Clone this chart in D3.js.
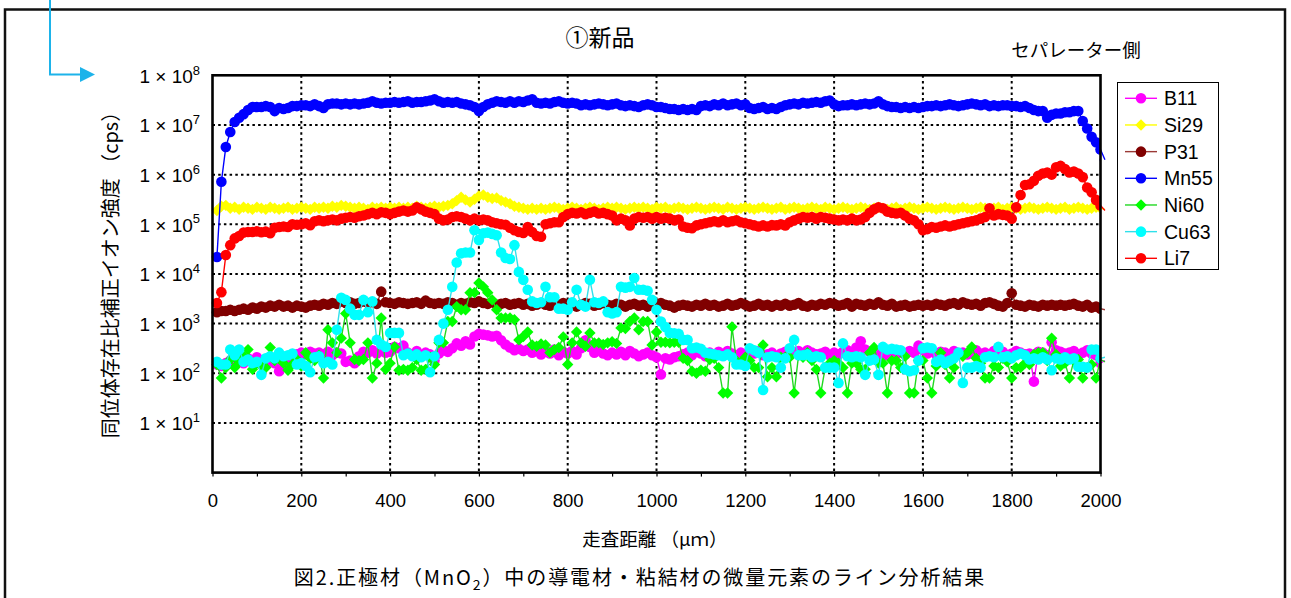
<!DOCTYPE html>
<html><head><meta charset="utf-8">
<script src="https://cdn.jsdelivr.net/npm/d3@7"></script>
<style>body{margin:0;background:#fff}svg{display:block}</style>
</head><body><svg id="c" width="1291" height="598"></svg>
<script>
// ---- data (distance in µm, intensity in cps) ----
const distances = d3.range(10, 2011, 10);
const seriesNames = ["B11","Si29","P31","Mn55","Ni60","Cu63","Li7"];
const xTickValues = [0,200,400,600,800,1000,1200,1400,1600,1800,2000];
const yTickExponents = [1,2,3,4,5,6,7,8];

const B11 = [
1.5e2,1.4e2,1.6e2,1.8e2,1.5e2,1.9e2,1.6e2,2.0e2,1.7e2,2.1e2,
1.8e2,1.5e2,1.9e2,1.6e2,1.1e2,1.5e2,1.8e2,2.1e2,2.4e2,2.6e2,
2.4e2,2.7e2,2.5e2,2.6e2,2.4e2,2.7e2,2.3e2,2.6e2,2.5e2,1.7e2,
1.8e2,1.6e2,2.2e2,2.7e2,2.6e2,2.9e2,2.5e2,2.8e2,2.6e2,2.7e2,
3.4e2,3.2e2,3.6e2,2.6e2,2.3e2,2.8e2,2.2e2,2.6e2,2.4e2,1.8e2,
2.5e2,2.9e2,2.7e2,3.2e2,4.0e2,3.6e2,4.4e2,3.8e2,5.5e2,6.2e2,
6.0e2,5.8e2,5.5e2,5.7e2,4.6e2,3.8e2,3.3e2,2.9e2,3.1e2,2.8e2,
3.0e2,2.6e2,2.9e2,2.4e2,2.8e2,2.5e2,3.0e2,2.3e2,2.7e2,2.5e2,
2.8e2,2.4e2,3.2e2,4.6e2,3.4e2,2.6e2,2.9e2,2.5e2,2.3e2,2.6e2,
2.4e2,2.7e2,2.3e2,2.8e2,2.5e2,2.2e2,2.4e2,2.6e2,2.3e2,2.1e2,
9.5e1,2.0e2,1.9e2,2.1e2,2.2e2,2.4e2,2.6e2,2.3e2,2.8e2,2.5e2,
2.2e2,2.6e2,2.4e2,2.7e2,2.3e2,2.8e2,2.5e2,2.3e2,2.6e2,2.4e2,
2.7e2,2.5e2,2.8e2,2.3e2,2.4e2,2.6e2,2.2e2,2.5e2,2.7e2,2.3e2,
2.6e2,2.8e2,2.5e2,2.9e2,2.6e2,2.4e2,2.5e2,2.7e2,2.3e2,2.6e2,
2.4e2,2.7e2,2.9e2,2.6e2,3.3e2,4.4e2,3.0e2,2.7e2,2.5e2,2.4e2,
2.6e2,2.3e2,2.7e2,2.5e2,2.6e2,2.4e2,2.8e2,2.6e2,3.6e2,2.9e2,
2.5e2,2.8e2,2.4e2,2.7e2,2.6e2,2.3e2,2.8e2,2.5e2,2.6e2,2.4e2,
2.7e2,2.9e2,2.5e2,2.6e2,2.4e2,2.8e2,2.5e2,2.7e2,2.3e2,2.5e2,
2.8e2,2.6e2,2.4e2,2.5e2,6.8e1,2.7e2,2.6e2,2.3e2,4.2e2,2.9e2,
2.7e2,2.5e2,2.6e2,2.8e2,2.4e2,2.6e2,2.9e2,2.5e2,2.3e2,1.6e2,
1.8e2];

const Si29 = [
1.9e5,2.3e5,2.4e5,2.1e5,2.2e5,2.0e5,2.2e5,2.1e5,2.0e5,2.2e5,
2.1e5,2.0e5,2.2e5,2.1e5,2.0e5,2.1e5,2.2e5,2.0e5,2.1e5,2.2e5,
2.1e5,2.0e5,2.2e5,2.1e5,2.2e5,2.1e5,2.3e5,2.2e5,2.4e5,2.3e5,
2.2e5,2.1e5,2.2e5,2.1e5,2.0e5,2.2e5,2.1e5,2.2e5,2.1e5,2.2e5,
2.1e5,2.2e5,2.1e5,2.2e5,2.1e5,2.3e5,2.2e5,2.1e5,2.2e5,2.3e5,
2.2e5,2.3e5,2.4e5,2.6e5,3.0e5,3.5e5,3.1e5,2.8e5,3.2e5,3.7e5,
3.9e5,3.5e5,3.3e5,3.4e5,3.0e5,2.8e5,2.6e5,2.3e5,2.2e5,2.1e5,
2.0e5,2.1e5,2.0e5,2.1e5,2.0e5,2.1e5,2.2e5,2.1e5,2.0e5,2.1e5,
2.2e5,2.1e5,2.0e5,2.1e5,2.2e5,2.1e5,2.0e5,2.1e5,2.2e5,2.1e5,
2.2e5,2.1e5,2.0e5,2.1e5,2.2e5,2.1e5,2.2e5,2.1e5,2.0e5,2.2e5,
2.1e5,2.2e5,2.0e5,2.1e5,2.2e5,2.1e5,2.0e5,2.1e5,2.2e5,2.1e5,
2.0e5,2.1e5,2.2e5,2.1e5,2.0e5,2.2e5,2.1e5,2.0e5,2.1e5,2.2e5,
2.1e5,2.0e5,2.1e5,2.2e5,2.1e5,2.0e5,2.1e5,2.2e5,2.0e5,2.1e5,
2.2e5,2.1e5,2.0e5,2.1e5,2.2e5,2.1e5,2.0e5,2.2e5,2.1e5,2.0e5,
2.1e5,2.2e5,2.1e5,2.0e5,2.1e5,2.2e5,2.1e5,2.0e5,2.1e5,2.2e5,
2.1e5,2.0e5,2.1e5,2.2e5,2.0e5,2.1e5,2.2e5,2.1e5,2.0e5,2.1e5,
2.2e5,2.1e5,2.0e5,2.1e5,2.2e5,2.1e5,2.0e5,2.1e5,2.2e5,2.1e5,
2.0e5,2.1e5,2.2e5,2.1e5,2.0e5,2.1e5,2.2e5,2.0e5,2.1e5,2.2e5,
2.1e5,2.0e5,2.1e5,2.2e5,2.1e5,2.0e5,2.1e5,2.2e5,2.1e5,2.0e5,
2.1e5,2.2e5,2.0e5,2.1e5,2.2e5,2.1e5,2.0e5,2.1e5,2.2e5,2.1e5,
2.0e5];

const P31 = [
1.7e3,1.8e3,1.8e3,1.9e3,1.8e3,1.9e3,2.0e3,1.9e3,2.1e3,2.0e3,
2.2e3,2.1e3,2.3e3,2.2e3,2.4e3,2.2e3,2.3e3,2.1e3,2.3e3,2.2e3,
2.1e3,2.3e3,2.4e3,2.3e3,2.5e3,2.4e3,2.6e3,2.5e3,2.8e3,2.6e3,
2.7e3,2.5e3,2.6e3,2.8e3,2.6e3,2.7e3,2.5e3,4.4e3,2.7e3,2.6e3,
2.5e3,2.7e3,2.6e3,2.5e3,2.6e3,2.7e3,2.5e3,2.9e3,2.6e3,2.5e3,
2.6e3,2.5e3,2.7e3,2.6e3,2.4e3,2.6e3,2.5e3,2.7e3,2.6e3,2.8e3,
2.6e3,2.5e3,2.7e3,2.4e3,2.5e3,2.6e3,2.4e3,2.5e3,2.6e3,2.4e3,
2.5e3,2.3e3,2.4e3,2.6e3,2.4e3,2.3e3,2.5e3,2.4e3,2.6e3,2.5e3,
2.4e3,2.2e3,2.4e3,2.6e3,2.5e3,2.3e3,2.4e3,2.6e3,2.4e3,2.3e3,
2.5e3,2.4e3,2.2e3,2.4e3,2.5e3,2.3e3,2.4e3,2.2e3,2.5e3,2.4e3,
2.6e3,2.4e3,2.3e3,2.1e3,2.3e3,2.4e3,2.3e3,2.2e3,2.4e3,2.3e3,
2.5e3,2.3e3,2.4e3,2.2e3,2.3e3,2.5e3,2.3e3,2.4e3,2.6e3,2.4e3,
2.2e3,2.3e3,2.5e3,2.3e3,2.4e3,2.2e3,2.4e3,2.3e3,2.5e3,2.3e3,
2.4e3,2.6e3,2.3e3,2.2e3,2.4e3,2.3e3,2.5e3,2.4e3,2.6e3,2.5e3,
2.3e3,2.4e3,2.6e3,2.2e3,2.5e3,2.4e3,2.3e3,2.5e3,2.4e3,2.7e3,
2.4e3,2.3e3,2.5e3,2.2e3,2.3e3,2.4e3,2.2e3,2.3e3,2.4e3,2.3e3,
2.4e3,2.3e3,2.5e3,2.4e3,2.3e3,2.5e3,2.6e3,2.4e3,2.7e3,2.5e3,
2.4e3,2.5e3,2.3e3,2.6e3,2.7e3,2.5e3,2.3e3,2.2e3,2.6e3,4.1e3,
2.4e3,2.3e3,2.2e3,2.4e3,2.3e3,2.2e3,2.4e3,2.3e3,2.4e3,2.3e3,
2.4e3,2.3e3,2.4e3,2.5e3,2.3e3,2.2e3,2.4e3,2.1e3,2.2e3,2.0e3,
1.9e3];

const Mn55 = [
2.2e4,7.2e5,3.6e6,7.2e6,1.15e7,1.4e7,1.65e7,2.0e7,2.3e7,2.3e7,
2.3e7,2.4e7,2.3e7,1.9e7,2.2e7,2.1e7,2.2e7,2.4e7,2.4e7,2.5e7,
2.5e7,2.4e7,2.6e7,2.4e7,2.2e7,2.6e7,2.7e7,2.7e7,2.6e7,2.7e7,
2.6e7,2.7e7,2.6e7,2.7e7,2.8e7,3.0e7,2.8e7,2.7e7,2.8e7,2.8e7,
2.9e7,2.8e7,2.9e7,3.0e7,2.8e7,2.9e7,2.9e7,3.0e7,3.1e7,3.3e7,
3.0e7,2.8e7,2.9e7,2.8e7,2.9e7,2.7e7,2.6e7,2.5e7,2.3e7,1.9e7,
2.3e7,2.6e7,2.8e7,3.0e7,2.9e7,2.8e7,3.0e7,2.8e7,3.0e7,2.9e7,
3.1e7,3.3e7,2.8e7,2.7e7,2.8e7,2.7e7,2.9e7,3.0e7,2.8e7,2.7e7,
2.8e7,2.7e7,2.5e7,2.6e7,2.5e7,2.6e7,2.7e7,2.6e7,2.5e7,2.6e7,
2.7e7,2.5e7,2.4e7,2.5e7,2.4e7,2.3e7,2.5e7,2.6e7,2.5e7,2.3e7,
2.3e7,2.2e7,2.1e7,2.1e7,2.0e7,2.1e7,2.0e7,2.1e7,2.0e7,2.4e7,
2.5e7,2.4e7,2.6e7,2.5e7,2.7e7,2.5e7,2.6e7,2.7e7,2.5e7,2.6e7,
2.2e7,2.1e7,2.2e7,2.3e7,2.1e7,2.2e7,2.1e7,2.3e7,2.5e7,2.6e7,
2.7e7,2.6e7,2.8e7,2.7e7,2.8e7,2.9e7,2.8e7,3.0e7,3.1e7,2.6e7,
2.4e7,2.5e7,2.5e7,2.6e7,2.5e7,2.6e7,2.7e7,2.6e7,2.7e7,3.0e7,
2.6e7,2.4e7,2.3e7,2.3e7,2.2e7,2.3e7,2.2e7,2.3e7,2.2e7,2.3e7,
2.4e7,2.4e7,2.5e7,2.4e7,2.5e7,2.6e7,2.5e7,2.4e7,2.5e7,2.6e7,
2.7e7,2.6e7,2.5e7,2.6e7,2.4e7,2.5e7,2.4e7,2.5e7,2.5e7,2.4e7,
2.4e7,2.3e7,2.4e7,2.2e7,2.0e7,1.9e7,1.9e7,1.4e7,1.6e7,1.7e7,
1.7e7,1.8e7,1.8e7,1.9e7,1.9e7,1.2e7,8.5e6,5.8e6,4.5e6,3.2e6,
2.0e6];

const Ni60 = [
1.5e2,8.0e1,1.3e2,1.9e2,1.3e2,1.7e2,2.2e2,3.0e2,1.2e2,1.6e2,
1.4e2,1.3e2,3.3e2,1.8e2,2.0e2,1.6e2,1.15e2,1.5e2,1.9e2,1.4e2,
2.6e2,2.0e2,1.8e2,2.3e2,8.0e1,7.5e2,4.1e2,2.6e2,5.1e2,1.6e3,
4.1e2,1.9e2,1.8e2,1.9e2,4.1e2,8.0e1,1.6e2,1.3e3,1.2e2,1.6e2,
3.4e2,1.15e2,1.2e2,1.15e2,1.3e2,1.9e2,1.15e2,1.2e2,2.1e2,1.5e2,
4.1e2,4.1e2,1.1e3,1.1e3,2.2e3,1.9e3,1.9e3,4.2e3,4.2e3,6.6e3,
5.5e3,4.2e3,3.0e3,1.9e3,1.3e3,1.3e3,1.3e3,1.2e3,4.7e2,5.5e2,
6.8e2,3.7e2,3.5e2,3.9e2,3.7e2,2.6e2,3.0e2,3.3e2,5.4e2,1.5e2,
4.1e2,6.8e2,4.1e2,3.5e2,6.5e2,4.1e2,4.1e2,3.8e2,4.1e2,4.3e2,
4.0e2,8.2e2,8.0e2,1.1e3,1.3e3,7.5e2,1.1e3,1.1e3,3.7e2,6.8e2,
4.2e2,4.2e2,4.1e2,4.2e2,4.2e2,2.0e2,1.8e2,1.1e2,1.0e2,1.15e2,
1.1e2,1.9e2,2.0e2,1.3e2,4.0e1,4.0e1,8.6e2,1.8e2,1.6e2,2.1e2,
1.8e2,1.3e2,1.3e2,3.7e2,8.5e1,1.3e2,8.5e1,2.1e2,2.1e2,2.1e2,
4.0e1,2.3e2,2.1e2,2.6e2,1.8e2,1.2e2,4.0e1,1.3e2,1.6e2,1.8e2,
1.6e2,1.3e2,4.0e1,1.6e2,1.6e2,1.2e2,1.2e2,2.6e2,3.3e2,1.6e2,
1.6e2,4.0e1,1.8e2,1.8e2,1.3e2,2.2e2,4.0e1,4.0e1,1.8e2,1.8e2,
8.0e1,4.0e1,1.4e2,2.6e2,1.5e2,8.0e1,1.3e2,2.4e2,2.2e2,2.6e2,
3.4e2,2.0e2,1.6e2,8.0e1,8.0e1,1.4e2,1.3e2,2.0e2,1.7e2,8.0e1,
1.3e2,1.3e2,1.6e2,1.5e2,2.4e2,2.6e2,2.6e2,1.8e2,5.1e2,2.4e2,
1.4e2,1.6e2,8.0e1,1.8e2,1.9e2,8.0e1,1.3e2,1.5e2,8.0e1,1.9e2,
1.7e2];

const Cu63 = [
1.7e2,1.5e2,1.5e2,3.0e2,2.3e2,3.0e2,1.7e2,1.9e2,1.6e2,1.7e2,
9.3e1,2.0e2,2.2e2,2.0e2,2.6e2,2.2e2,2.3e2,2.5e2,1.5e2,1.6e2,
1.4e2,1.05e2,2.1e2,2.2e2,1.6e2,1.7e2,1.5e2,7.5e2,3.3e3,3.0e3,
2.0e3,1.5e3,1.5e3,3.0e3,1.7e3,2.8e3,4.7e2,3.8e2,3.4e2,6.5e2,
6.5e2,6.5e2,2.3e2,2.5e2,2.2e2,2.4e2,2.1e2,2.3e2,1.05e2,2.2e2,
4.7e2,1.0e3,1.9e3,5.5e3,1.7e4,2.6e4,2.7e4,2.7e4,7.6e4,4.8e4,
6.6e4,6.8e4,6.4e4,6.0e4,2.7e4,2.1e4,2.0e4,3.8e4,1.1e4,7.6e3,
4.8e3,2.8e3,2.6e3,2.7e3,5.5e3,3.4e3,3.4e3,2.0e3,2.0e3,1.9e3,
2.7e3,4.8e3,2.4e3,2.2e3,7.6e3,2.7e3,2.6e3,2.8e3,1.7e3,1.6e3,
1.7e3,5.5e3,5.3e3,5.5e3,8.3e3,4.8e3,4.8e3,4.6e3,3.0e3,1.9e3,
1.1e3,8.5e2,6.5e2,6.4e2,6.2e2,4.7e2,4.7e2,3.2e2,3.3e2,3.1e2,
2.6e2,2.5e2,2.4e2,2.3e2,2.2e2,2.4e2,2.1e2,1.5e2,1.5e2,1.4e2,
3.2e2,2.9e2,2.6e2,4.6e1,2.1e2,2.2e2,2.1e2,1.3e2,2.0e2,3.2e2,
4.7e2,2.3e2,2.3e2,2.4e2,2.1e2,2.2e2,2.1e2,1.3e2,1.3e2,1.3e2,
6.4e1,4.0e2,2.2e2,2.1e2,2.2e2,2.1e2,9.3e1,1.8e2,1.9e2,9.3e1,
3.4e2,3.0e2,3.1e2,3.0e2,2.9e2,1.2e2,1.1e2,1.15e2,1.8e2,3.2e2,
3.3e2,3.2e2,1.7e2,1.9e2,1.6e2,1.8e2,2.0e2,2.6e2,6.4e1,1.3e2,
1.3e2,1.4e2,1.3e2,2.1e2,2.2e2,2.1e2,3.4e2,2.1e2,2.2e2,2.0e2,
2.3e2,2.5e2,2.3e2,1.9e2,2.0e2,1.9e2,2.1e2,1.9e2,1.15e2,2.0e2,
1.9e2,2.1e2,1.9e2,2.0e2,1.35e2,1.35e2,1.3e2,3.0e2,3.0e2,2.0e2,
2.1e2];

const Li7 = [
2.6e3,4.3e3,2.4e4,3.8e4,5.2e4,5.8e4,6.8e4,7.0e4,7.0e4,7.2e4,
6.9e4,7.1e4,6.6e4,8.5e4,8.8e4,9.0e4,8.8e4,1.0e5,9.8e4,1.0e5,
1.05e5,9.6e4,1.15e5,1.2e5,1.15e5,1.2e5,1.25e5,1.2e5,1.3e5,1.35e5,
1.4e5,1.35e5,1.45e5,1.5e5,1.6e5,1.7e5,1.6e5,1.75e5,1.7e5,1.6e5,
1.7e5,1.8e5,1.9e5,1.8e5,1.9e5,2.2e5,2.0e5,1.8e5,1.7e5,1.6e5,
1.3e5,1.2e5,1.25e5,1.4e5,1.45e5,1.4e5,1.3e5,1.2e5,1.3e5,1.2e5,
1.25e5,1.2e5,1.1e5,1.05e5,1.0e5,9.8e4,8.5e4,7.6e4,7.0e4,6.7e4,
8.8e4,7.0e4,5.8e4,5.6e4,1.0e5,1.05e5,1.1e5,1.1e5,1.4e5,1.6e5,
1.7e5,1.65e5,1.75e5,1.6e5,1.7e5,1.8e5,1.65e5,1.7e5,1.6e5,1.5e5,
1.2e5,1.3e5,1.2e5,9.5e4,1.3e5,1.4e5,1.35e5,1.4e5,1.3e5,1.4e5,
1.3e5,1.35e5,1.3e5,1.2e5,1.25e5,9.0e4,8.5e4,8.3e4,9.5e4,1.0e5,
1.05e5,1.1e5,1.15e5,1.1e5,1.2e5,1.1e5,1.15e5,1.2e5,1.1e5,1.05e5,
1.0e5,9.5e4,9.0e4,9.5e4,9.0e4,9.6e4,9.5e4,1.0e5,9.5e4,1.1e5,
1.2e5,1.3e5,1.4e5,1.35e5,1.4e5,1.3e5,1.4e5,1.35e5,1.3e5,1.25e5,
1.2e5,1.25e5,1.2e5,1.3e5,1.2e5,1.25e5,1.4e5,1.7e5,2.0e5,2.2e5,
2.1e5,1.8e5,1.7e5,1.65e5,1.7e5,1.5e5,1.3e5,1.2e5,1.0e5,7.6e4,
8.0e4,8.8e4,8.5e4,9.0e4,9.5e4,9.0e4,9.5e4,1.0e5,1.05e5,1.1e5,
1.15e5,1.2e5,1.3e5,1.4e5,2.1e5,1.5e5,1.6e5,1.55e5,1.5e5,1.3e5,
2.2e5,3.9e5,6.2e5,6.4e5,7.5e5,9.5e5,1.05e6,1.1e6,1.0e6,1.4e6,
1.5e6,1.3e6,1.1e6,1.15e6,1.05e6,8.9e5,5.5e5,4.4e5,3.1e5,2.4e5,
1.9e5];

const seriesValues = {B11, Si29, P31, Mn55, Ni60, Cu63, Li7};
const seriesStyle = {
  B11:  {line:"#FF00FF", fill:"#FF00FF", shape:"circle"},
  Si29: {line:"#FFFF00", fill:"#FFFF00", shape:"diamond"},
  P31:  {line:"#9B3A36", fill:"#800000", shape:"circle"},
  Mn55: {line:"#0000FF", fill:"#0000FF", shape:"circle"},
  Ni60: {line:"#22D822", fill:"#00FF00", shape:"diamond"},
  Cu63: {line:"#30E0EA", fill:"#00FFFF", shape:"circle"},
  Li7:  {line:"#FF0000", fill:"#FF0000", shape:"circle"}
};

// ---- drawing ----
const W = 1291, H = 598;
const LAT = "'Liberation Sans', Arial, sans-serif";
const CJK = "'Noto Sans CJK JP', 'Noto Sans CJK SC', sans-serif";
const svg = d3.select("#c");
svg.append("rect").attr("width", W).attr("height", H).attr("fill", "#fff");

const M = {l:212.5, r:1100.5, t:75.3, b:472.6};
const x = d3.scaleLinear().domain([0, 2000]).range([M.l, M.r]);
const y = d3.scaleLog().domain([1, 1e8]).range([M.b, M.t]);

// outer frame
svg.append("rect").attr("x", 5).attr("y", 9.5).attr("width", 1280).attr("height", H + 10)
  .attr("fill", "none").attr("stroke", "#111").attr("stroke-width", 2.5);

// cyan pointer arrow
svg.append("path").attr("d", "M50,0V74.5H81").attr("fill", "none")
  .attr("stroke", "#1DB3EA").attr("stroke-width", 2);
svg.append("path").attr("d", "M80,67L95,74.5L80,82Z").attr("fill", "#1DB3EA");

// grid
const grid = svg.append("g").attr("stroke", "#000").attr("stroke-width", 2)
  .attr("stroke-dasharray", "2.5,3.2");
yTickExponents.filter(e => e < 8).forEach(e => {
  grid.append("line").attr("x1", M.l).attr("x2", M.r)
    .attr("y1", y(Math.pow(10, e))).attr("y2", y(Math.pow(10, e)));
});
xTickValues.filter(v => v > 0 && v < 2000).forEach(v => {
  grid.append("line").attr("y1", M.t).attr("y2", M.b).attr("x1", x(v)).attr("x2", x(v));
});

// x axis with minor ticks
const xAxis = d3.axisBottom(x).tickValues(d3.range(0, 2001, 100))
  .tickSize(4).tickPadding(17)
  .tickFormat(d => xTickValues.includes(d) ? String(d) : "");
const gx = svg.append("g").attr("transform", `translate(0,${M.b})`).call(xAxis);
gx.select(".domain").remove();
gx.selectAll(".tick line").attr("stroke", "#000").attr("stroke-width", 1.2);
gx.selectAll(".tick text").attr("font-family", LAT).attr("font-size", 18.5).attr("fill", "#000");

// y axis labels 1×10^n
const yl = svg.append("g");
yTickExponents.forEach(e => {
  const t = yl.append("text").attr("x", 200).attr("y", y(Math.pow(10, e)) + 7.5)
    .attr("text-anchor", "end").attr("font-family", LAT).attr("fill", "#000");
  t.append("tspan").attr("font-size", 19).text("1 × 10");
  t.append("tspan").attr("font-size", 13).attr("dy", -8.3).text(String(e));
});

// clip paths
const defs = svg.append("defs");
defs.append("clipPath").attr("id", "clipLine").append("rect")
  .attr("x", M.l).attr("y", M.t - 2).attr("width", M.r - M.l + 6).attr("height", M.b - M.t + 2);
defs.append("clipPath").attr("id", "clipMark").append("rect")
  .attr("x", M.l - 6).attr("y", M.t - 6).attr("width", M.r - M.l + 6).attr("height", M.b - M.t + 6);

const line = d3.line().x((d, i) => x(distances[i])).y(d => y(d));
const diamond = s => `M0,${-s}L${s},0L0,${s}L${-s},0Z`;

const dataG = svg.append("g");
seriesNames.forEach(name => {
  const st = seriesStyle[name], vals = seriesValues[name];
  const g = dataG.append("g");
  g.append("path").datum(vals).attr("d", line).attr("fill", "none")
    .attr("stroke", st.line).attr("stroke-width", 1.4).attr("clip-path", "url(#clipLine)");
  const mg = g.append("g").attr("clip-path", "url(#clipMark)");
  if (st.shape === "circle") {
    mg.selectAll("circle").data(vals).join("circle")
      .attr("cx", (d, i) => x(distances[i])).attr("cy", d => y(d)).attr("r", 5.3)
      .attr("fill", st.fill);
  } else {
    mg.selectAll("path").data(vals).join("path")
      .attr("d", diamond(5.7))
      .attr("transform", (d, i) => `translate(${x(distances[i])},${y(d)})`)
      .attr("fill", st.fill);
  }
});

// plot frame
svg.append("rect").attr("x", M.l).attr("y", M.t).attr("width", M.r - M.l).attr("height", M.b - M.t)
  .attr("fill", "none").attr("stroke", "#000").attr("stroke-width", 2.6);

// legend
const lg = svg.append("g");
lg.append("rect").attr("x", 1117.5).attr("y", 82.5).attr("width", 101).attr("height", 187)
  .attr("fill", "#fff").attr("stroke", "#000").attr("stroke-width", 1);
seriesNames.forEach((name, i) => {
  const st = seriesStyle[name];
  const cy = 98.3 + i * 26.67;
  lg.append("line").attr("x1", 1125).attr("x2", 1157).attr("y1", cy).attr("y2", cy)
    .attr("stroke", st.line).attr("stroke-width", 1.4);
  if (st.shape === "circle") lg.append("circle").attr("cx", 1141).attr("cy", cy).attr("r", 5.3).attr("fill", st.fill);
  else lg.append("path").attr("d", diamond(5.7)).attr("transform", `translate(1141,${cy})`).attr("fill", st.fill);
  lg.append("text").attr("x", 1164).attr("y", cy + 7).attr("font-family", LAT)
    .attr("font-size", 19.5).attr("fill", "#000").text(name);
});

// texts
svg.append("text").attr("x", 600).attr("y", 46).attr("text-anchor", "middle")
  .attr("font-family", CJK).attr("font-size", 23).attr("fill", "#000").text("①新品");
svg.append("text").attr("x", 1076).attr("y", 57).attr("text-anchor", "middle")
  .attr("font-family", CJK).attr("font-size", 18.5).attr("fill", "#000").text("セパレーター側");
svg.append("text").attr("transform", "translate(109,270) rotate(-90)")
  .attr("text-anchor", "middle").attr("dominant-baseline", "central")
  .attr("font-family", CJK).attr("font-size", 20).attr("fill", "#000")
  .text("同位体存在比補正イオン強度 （cps）");
svg.append("text").attr("x", 655).attr("y", 546).attr("text-anchor", "middle")
  .attr("font-family", CJK).attr("font-size", 18.5).attr("fill", "#000").text("走査距離 （μｍ）");
const cap = svg.append("text").attr("x", 640).attr("y", 585).attr("text-anchor", "middle")
  .attr("font-family", CJK).attr("font-size", 20).attr("letter-spacing", 1.9).attr("fill", "#000");
cap.append("tspan").text("図2.正極材（MnO");
cap.append("tspan").attr("font-size", 14).attr("dy", 5).text("2");
cap.append("tspan").attr("dy", -5).text("）中の導電材・粘結材の微量元素のライン分析結果");
</script></body></html>
